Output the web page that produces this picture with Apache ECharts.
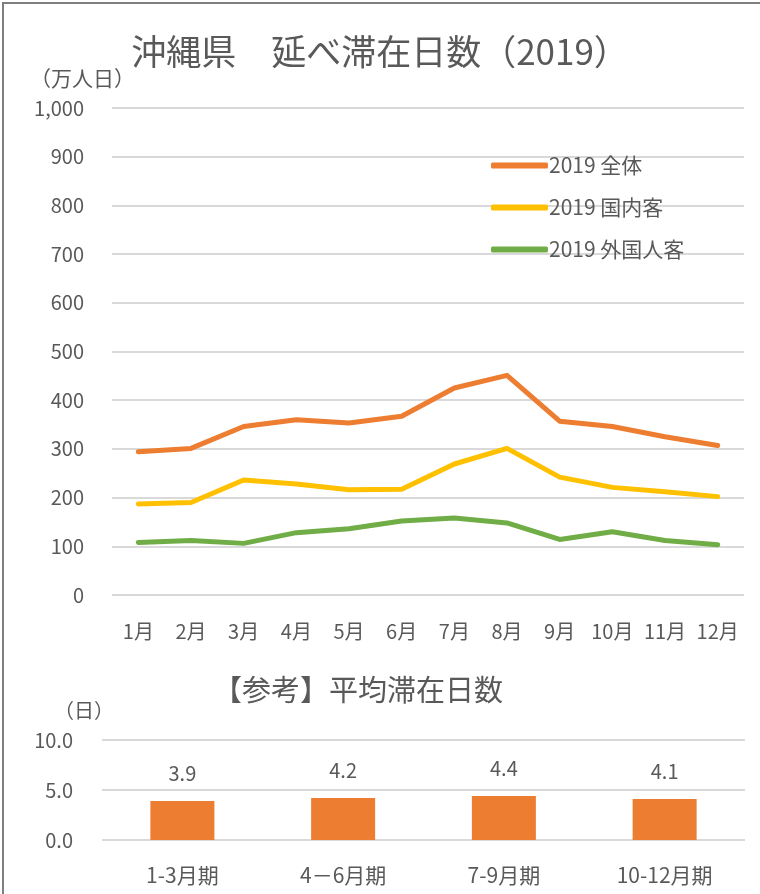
<!DOCTYPE html>
<html>
<head>
<meta charset="utf-8">
<script src="https://cdn.jsdelivr.net/npm/echarts@6/dist/echarts.min.js"></script>
<style>
  html, body { margin: 0; padding: 0; background: #fff; }
  #chart { width: 760px; height: 894px; }
  .frame {
    position: absolute; left: 2px; top: 2px; width: 820px; height: 950px;
    border-left: 2px solid #7f7f7f; border-top: 2px solid #7f7f7f;
    pointer-events: none;
  }
</style>
</head>
<body>
<div id="chart"></div>
<div class="frame"></div>
<script>
// 月別 延べ滞在日数（万人日）
const months = ['1月', '2月', '3月', '4月', '5月', '6月', '7月', '8月', '9月', '10月', '11月', '12月']
const totalDays = [294, 301, 346, 360, 353, 367, 425, 451, 357, 346, 325, 307]
const domesticDays = [187, 190, 236, 228, 216, 217, 269, 301, 242, 221, 212, 202]
const foreignDays = [108, 112, 106, 128, 136, 152, 158, 148, 114, 130, 112, 103]

// 四半期別 平均滞在日数（日）
const quarters = ['1-3月期', '4－6月期', '7-9月期', '10-12月期']
const avgStay = [3.9, 4.2, 4.4, 4.1]

const font = '"Noto Sans CJK JP", "Noto Sans", sans-serif'
const textColor = '#595959'
const gridColor = '#d9d9d9'

const chart = echarts.init(document.getElementById('chart'))

const option = {
  backgroundColor: '#fff',
  textStyle: { fontFamily: font, color: textColor },
  animation: false,
  title: [
    {
      text: '沖縄県　延べ滞在日数（2019）',
      left: 'center',
      top: 29,
      textStyle: { fontFamily: font, fontSize: 35, fontWeight: 'normal', color: textColor }
    },
    {
      text: '【参考】平均滞在日数',
      left: 208,
      top: 670,
      textStyle: { fontFamily: font, fontSize: 29, fontWeight: 'normal', color: textColor }
    }
  ],
  graphic: [
    { type: 'text', left: 30, top: 68, style: { text: '（万人日）', font: '21px ' + font, fill: textColor } },
    { type: 'text', left: 54, top: 700, style: { text: '（日）', font: '20px ' + font, fill: textColor } }
  ],
  legend: {
    orient: 'vertical',
    left: 486,
    top: 150,
    itemGap: 21,
    itemWidth: 57,
    itemHeight: 6,
    icon: 'roundRect',
    textStyle: { fontFamily: font, fontSize: 21, color: textColor, padding: [0, 0, 0, -4] },
    data: ['2019 全体', '2019 国内客', '2019 外国人客']
  },
  grid: [
    { left: 112, right: 16, top: 108, bottom: 299 },
    { left: 102, right: 15, top: 740, bottom: 54 }
  ],
  xAxis: [
    {
      gridIndex: 0,
      type: 'category',
      data: months,
      axisLine: { show: false },
      axisTick: { show: false },
      axisLabel: { interval: 0, hideOverlap: false, fontFamily: font, fontSize: 20, color: textColor, margin: 26 }
    },
    {
      gridIndex: 1,
      type: 'category',
      data: quarters,
      axisLine: { show: false },
      axisTick: { show: false },
      axisLabel: { interval: 0, fontFamily: font, fontSize: 21, color: textColor, margin: 25 }
    }
  ],
  yAxis: [
    {
      gridIndex: 0,
      type: 'value',
      min: 0,
      max: 1000,
      interval: 100,
      axisLabel: {
        fontFamily: font, fontSize: 20, color: textColor, margin: 28,
        formatter: v => v.toLocaleString('en-US')
      },
      splitLine: { lineStyle: { color: gridColor, width: 2 } }
    },
    {
      gridIndex: 1,
      type: 'value',
      min: 0,
      max: 10,
      interval: 5,
      axisLabel: {
        fontFamily: font, fontSize: 20, color: textColor, margin: 29,
        formatter: v => v.toFixed(1)
      },
      splitLine: { lineStyle: { color: gridColor, width: 2 } }
    }
  ],
  series: [
    {
      name: '2019 全体',
      type: 'line',
      data: totalDays,
      symbol: 'none',
      color: '#ed7d31',
      lineStyle: { width: 5, cap: 'round', join: 'round' }
    },
    {
      name: '2019 国内客',
      type: 'line',
      data: domesticDays,
      symbol: 'none',
      color: '#ffc000',
      lineStyle: { width: 5, cap: 'round', join: 'round' }
    },
    {
      name: '2019 外国人客',
      type: 'line',
      data: foreignDays,
      symbol: 'none',
      color: '#70ad47',
      lineStyle: { width: 5, cap: 'round', join: 'round' }
    },
    {
      name: '平均滞在日数',
      type: 'bar',
      xAxisIndex: 1,
      yAxisIndex: 1,
      data: avgStay,
      barWidth: 64,
      itemStyle: { color: '#ed7d31' },
      label: {
        show: true,
        position: 'top',
        distance: 18,
        fontFamily: font,
        fontSize: 20,
        color: textColor,
        formatter: p => p.value.toFixed(1)
      }
    }
  ]
}

chart.setOption(option)
</script>
</body>
</html>
